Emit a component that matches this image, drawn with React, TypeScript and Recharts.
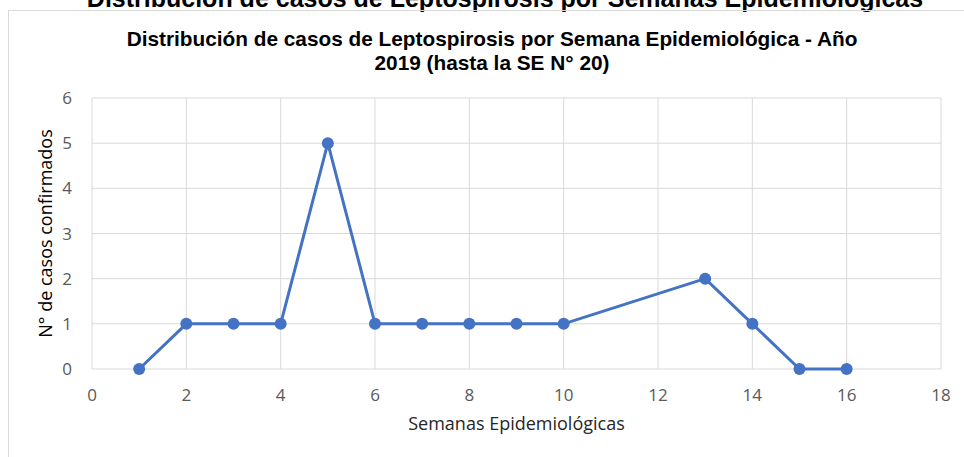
import React from 'react';
import { LineChart, Line, XAxis, YAxis, CartesianGrid, Label } from 'recharts';

const semanas = [1, 2, 3, 4, 5, 6, 7, 8, 9, 10, 13, 14, 15, 16];
const casos = [0, 1, 1, 1, 5, 1, 1, 1, 1, 1, 2, 1, 0, 0];
const xTicks = [0, 2, 4, 6, 8, 10, 12, 14, 16, 18];
const yTicks = [0, 1, 2, 3, 4, 5, 6];

const data = semanas.map((s, i) => ({ semana: s, casos: casos[i] }));

const font = '"Liberation Sans", Arial, sans-serif';
const tickFont = '"Open Sans", "Liberation Sans", sans-serif';

const App: React.FC = () => {
  return (
    <div style={{ position: 'absolute', left: 0, top: 0, width: 964, height: 457, overflow: 'hidden', background: '#fff' }}>
      <div
        style={{
          position: 'absolute', top: -16, left: 0, width: 1010, textAlign: 'center',
          fontFamily: font, fontWeight: 'bold', fontSize: 25, color: '#000', whiteSpace: 'nowrap',
        }}
      >
        Distribución de casos de Leptospirosis por Semanas Epidemiológicas
      </div>
      <div
        style={{
          position: 'absolute', left: 8, top: 10, width: 1000, height: 500,
          borderLeft: '1px solid #d9d9d9', borderTop: '1px solid #d9d9d9',
        }}
      />
      <div
        style={{
          position: 'absolute', top: 27, left: 0, width: 984, textAlign: 'center',
          fontFamily: font, fontWeight: 'bold', fontSize: 20.8, lineHeight: '24px', color: '#000',
        }}
      >
        Distribución de casos de Leptospirosis por Semana Epidemiológica - Año
        <br />
        2019 (hasta la SE N° 20)
      </div>
      <div style={{ position: 'absolute', left: 0, top: 0 }}>
        <LineChart width={964} height={457} data={data} margin={{ top: 98, right: 23, left: 0, bottom: 18 }}>
          <CartesianGrid stroke="#d9d9d9" strokeWidth={1} />
          <XAxis
            dataKey="semana"
            type="number"
            domain={[0, 18]}
            ticks={xTicks}
            interval={0}
            height={70}
            axisLine={false}
            tickLine={false}
            tickMargin={14}
            tick={{ fill: '#595959', fontSize: 17, fontFamily: tickFont }}
          >
            <Label
              value="Semanas Epidemiológicas"
              position="insideTop"
              offset={48}
              style={{ fill: '#262626', fontSize: 18, fontFamily: tickFont }}
            />
          </XAxis>
          <YAxis
            type="number"
            domain={[0, 6]}
            ticks={yTicks}
            interval={0}
            width={92}
            axisLine={false}
            tickLine={false}
            tickMargin={14}
            tick={{ fill: '#595959', fontSize: 17, fontFamily: tickFont }}
          >
            <Label
              value="N° de casos confirmados"
              angle={-90}
              position="insideLeft"
              offset={46}
              style={{ textAnchor: 'middle', fill: '#000', fontSize: 18, fontFamily: tickFont }}
            />
          </YAxis>
          <Line
            type="linear"
            dataKey="casos"
            stroke="#4472c4"
            strokeWidth={3}
            dot={{ r: 6, fill: '#4472c4', stroke: '#4472c4', strokeWidth: 0 }}
            isAnimationActive={false}
          />
        </LineChart>
      </div>
    </div>
  );
};

export default App;
